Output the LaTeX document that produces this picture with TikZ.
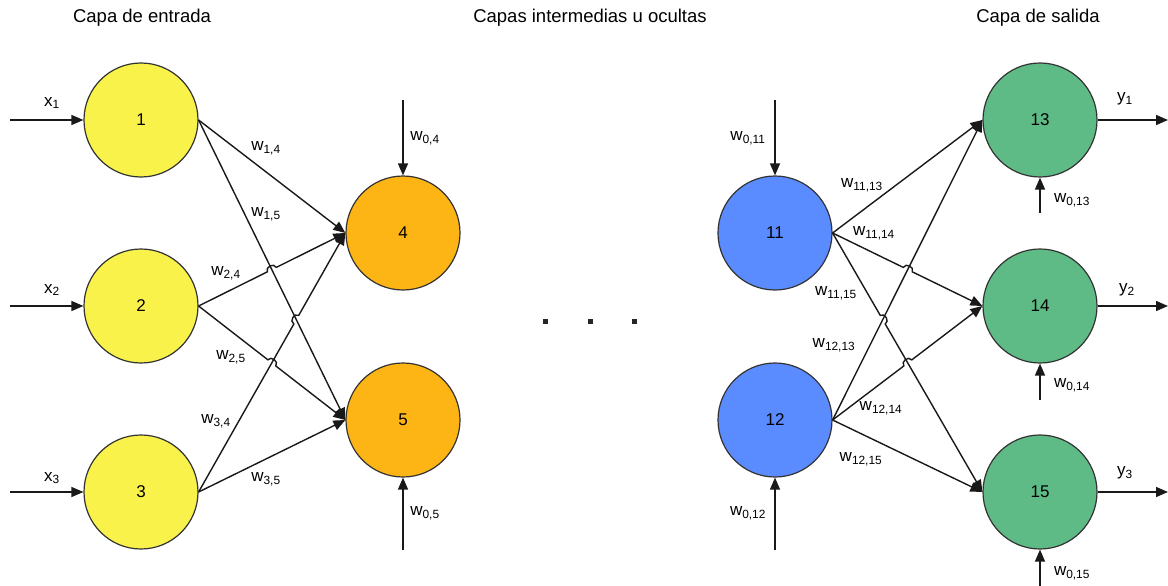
\documentclass[tikz,border=0pt]{standalone}
\usepackage{fontspec}
\setmainfont{Liberation Sans}
\usetikzlibrary{arrows.meta,calc}

\definecolor{inyellow}{HTML}{F9F24B}
\definecolor{hidorange}{HTML}{FDB515}
\definecolor{hidblue}{HTML}{5B8CFF}
\definecolor{outgreen}{HTML}{5FBB85}
\definecolor{rim}{HTML}{333333}

% connector from #1 to #2 that hops over another line at coordinate #3
\newcommand{\hopedge}[3]{%
  \draw[edge] (#1) -- ($(#3)!5pt!(#1)$)
    to[bend left=90,looseness=1.4] ($(#3)!5pt!(#2)$) -- (#2);}

\begin{document}
\begin{tikzpicture}[x=1pt,y=-1pt,
  neuron/.style={circle, draw=rim, line width=1.2pt, minimum size=114pt,
    inner sep=0pt, font=\fontsize{17}{20}\selectfont},
  edge/.style={line width=1.4pt, draw=black!90, -{Triangle[length=12pt,width=10pt]}},
  wlab/.style={font=\fontsize{17}{20}\selectfont, inner sep=0pt},
  title/.style={font=\fontsize{18.5}{22}\selectfont, inner sep=0pt},
  dot/.style={fill=black!85, minimum size=5pt, inner sep=0pt}
]
\useasboundingbox (0,0) rectangle (1168,586);

% layer titles
\node[title] (t1) at (142,18) {Capa de entrada};
\node[title] (t2) at (590,18) {Capas intermedias u ocultas};
\node[title] (t3) at (1038,18) {Capa de salida};

% neurons
\node[neuron, fill=inyellow] (n1) at (141,120) {1};
\node[neuron, fill=inyellow] (n2) at (141,306) {2};
\node[neuron, fill=inyellow] (n3) at (141,492) {3};
\node[neuron, fill=hidorange] (n4) at (403,233) {4};
\node[neuron, fill=hidorange] (n5) at (403,420) {5};
\node[neuron, fill=hidblue] (n11) at (775,233) {11};
\node[neuron, fill=hidblue] (n12) at (775,420) {12};
\node[neuron, fill=outgreen] (n13) at (1040,120) {13};
\node[neuron, fill=outgreen] (n14) at (1040,306) {14};
\node[neuron, fill=outgreen] (n15) at (1040,492) {15};

% ellipsis between hidden layers
\node[dot] (d1) at (545,321) {};
\node[dot] (d2) at (590,321) {};
\node[dot] (d3) at (634,321) {};

% free ends of inputs, outputs and biases
\coordinate (x1s) at (10,120);
\coordinate (x2s) at (10,306);
\coordinate (x3s) at (10,492);
\coordinate (y1e) at (1168,120);
\coordinate (y2e) at (1168,306);
\coordinate (y3e) at (1168,492);
\coordinate (b4) at (403,100);
\coordinate (b5) at (403,550);
\coordinate (b11) at (775,100);
\coordinate (b12) at (775,550);
\coordinate (b13) at (1040,213);
\coordinate (b14) at (1040,400);
\coordinate (b15) at (1040,586);

% inputs and outputs
\draw[edge] (x1s) -- (n1.west);
\draw[edge] (x2s) -- (n2.west);
\draw[edge] (x3s) -- (n3.west);
\draw[edge] (n13.east) -- (y1e);
\draw[edge] (n14.east) -- (y2e);
\draw[edge] (n15.east) -- (y3e);

% biases
\draw[edge] (b4) -- (n4.north);
\draw[edge] (b5) -- (n5.south);
\draw[edge] (b11) -- (n11.north);
\draw[edge] (b12) -- (n12.south);
\draw[edge] (b13) -- (n13.south);
\draw[edge] (b14) -- (n14.south);
\draw[edge] (b15) -- (n15.south);

% crossing points
\coordinate (h24) at (intersection of n1.east--n5.west and n2.east--n4.west);
\coordinate (h34) at (intersection of n1.east--n5.west and n3.east--n4.west);
\coordinate (h25) at (intersection of n2.east--n5.west and n3.east--n4.west);
\coordinate (h1114) at (intersection of n12.east--n13.west and n11.east--n14.west);
\coordinate (h1115) at (intersection of n12.east--n13.west and n11.east--n15.west);
\coordinate (h1214) at (intersection of n11.east--n15.west and n12.east--n14.west);

% input to first hidden layer
\draw[edge] (n1.east) -- (n4.west);
\draw[edge] (n1.east) -- (n5.west);
\hopedge{n2.east}{n4.west}{h24}
\hopedge{n2.east}{n5.west}{h25}
\hopedge{n3.east}{n4.west}{h34}
\draw[edge] (n3.east) -- (n5.west);

% last hidden layer to output
\draw[edge] (n11.east) -- (n13.west);
\hopedge{n11.east}{n14.west}{h1114}
\hopedge{n11.east}{n15.west}{h1115}
\draw[edge] (n12.east) -- (n13.west);
\hopedge{n12.east}{n14.west}{h1214}
\draw[edge] (n12.east) -- (n15.west);

% labels
\node[wlab] (lx1) at (52,103) {x\textsubscript{1}};
\node[wlab] (lx2) at (52,290) {x\textsubscript{2}};
\node[wlab] (lx3) at (52,478) {x\textsubscript{3}};
\node[wlab] (ly1) at (1125,99) {y\textsubscript{1}};
\node[wlab] (ly2) at (1127,290) {y\textsubscript{2}};
\node[wlab] (ly3) at (1125,473) {y\textsubscript{3}};

\node[wlab] (l04) at (425,138) {w\textsubscript{0,4}};
\node[wlab] (l05) at (425,513) {w\textsubscript{0,5}};
\node[wlab] (l011) at (748,138) {w\textsubscript{0,11}};
\node[wlab] (l012) at (748,513) {w\textsubscript{0,12}};
\node[wlab] (l013) at (1072,200) {w\textsubscript{0,13}};
\node[wlab] (l014) at (1072,385) {w\textsubscript{0,14}};
\node[wlab] (l015) at (1072,573) {w\textsubscript{0,15}};

\node[wlab] (l14) at (266,148) {w\textsubscript{1,4}};
\node[wlab] (l15) at (266,214) {w\textsubscript{1,5}};
\node[wlab] (l24) at (226,273) {w\textsubscript{2,4}};
\node[wlab] (l25) at (231,357) {w\textsubscript{2,5}};
\node[wlab] (l34) at (216,421) {w\textsubscript{3,4}};
\node[wlab] (l35) at (266,479) {w\textsubscript{3,5}};

\node[wlab] (l1113) at (862,185) {w\textsubscript{11,13}};
\node[wlab] (l1114) at (874,233) {w\textsubscript{11,14}};
\node[wlab] (l1115) at (836,293) {w\textsubscript{11,15}};
\node[wlab] (l1213) at (834,345) {w\textsubscript{12,13}};
\node[wlab] (l1214) at (881,408) {w\textsubscript{12,14}};
\node[wlab] (l1215) at (861,459) {w\textsubscript{12,15}};
\end{tikzpicture}
\end{document}
